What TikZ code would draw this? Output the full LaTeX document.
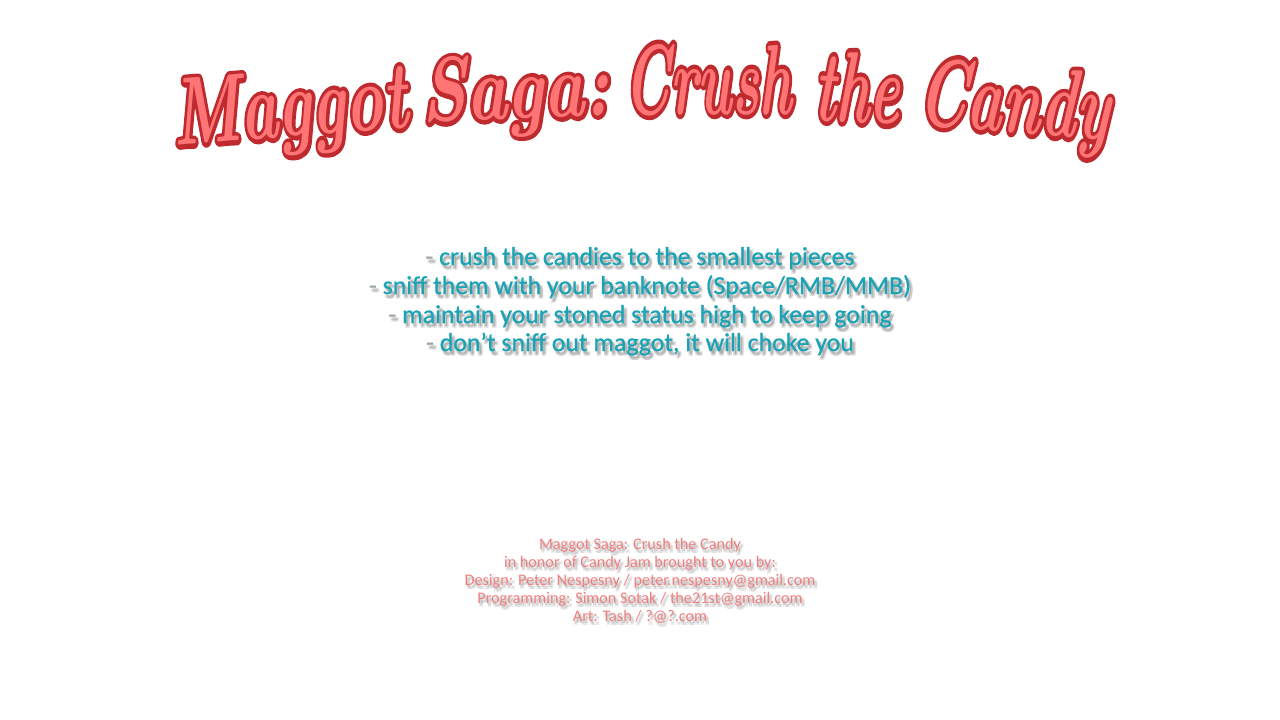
\documentclass[tikz,border=0pt]{standalone}
\usepackage{fontspec}
\usepackage{graphicx}
\newfontfamily\bodyfont[FakeBold=0.8]{Carlito}
\newfontfamily\footfont{Carlito}
\definecolor{ttlfill}{HTML}{FF7575}
\definecolor{ttlline}{HTML}{BE2A2E}
\definecolor{cyantxt}{HTML}{1AA3B5}
\definecolor{dashgray}{HTML}{9AA4A8}
\definecolor{foottxt}{HTML}{F07F7F}
\definecolor{shadowgray}{HTML}{707070}
\newcommand{\ttlfont}{\fontsize{100}{110}\selectfont\bfseries\itshape}
\newcommand{\strokedtext}[1]{\special{pdf:literal direct 2 Tr 9 w 1 J 1 j}#1\special{pdf:literal direct 0 Tr}}
\tikzset{
  ttl/.style={anchor=base west, inner sep=0pt, text=ttlfill},
  ttlo/.style={anchor=base west, inner sep=0pt, text=ttlline},
  body/.style={font=\bodyfont\fontsize{25.8}{30}\selectfont, text=cyantxt, anchor=base, inner sep=0pt},
  bodysh/.style={body, text=shadowgray, opacity=0.14},
  foot/.style={font=\footfont\fontsize{16.2}{19}\selectfont, text=foottxt, anchor=base, inner sep=0pt},
  footsh/.style={foot, text=shadowgray, opacity=0.14},
}
% width, height, text, x, y, rotation, name
\newcommand{\ttlword}[7]{%
  \node[ttlo, rotate=#6] at (#4,#5) {\resizebox{#1}{#2}{\ttlfont\strokedtext{#3}}};
  \node[ttl, rotate=#6] (#7) at (#4,#5) {\resizebox{#1}{#2}{\ttlfont #3}};}
\begin{document}
\begin{tikzpicture}[x=1pt,y=-1pt]
\useasboundingbox[fill=white] (0,0) rectangle (1280,720);
% title words
\ttlword{236pt}{66pt}{Maggot}{174}{146}{4.5}{t1}
\ttlword{188pt}{64pt}{Saga:}{422}{122}{2}{t2}
\ttlword{168pt}{70pt}{Crush}{624}{114}{0}{t3}
\ttlword{86pt}{70pt}{the}{813}{120}{-3}{t4}
\ttlword{192pt}{68pt}{Candy}{916}{124}{-5}{t5}
% body lines
\foreach \n/\yy/\t in {a/265/{crush the candies to the smallest pieces},
                       b/294/{sniff them with your banknote (Space/RMB/MMB)},
                       c/323/{maintain your stoned status high to keep going},
                       d/351/{don’t sniff out maggot, it will choke you}} {
  \foreach \dx/\dy in {2.5/3.5,1.5/2.5,3.5/4.5,1.5/4.5,3.5/2.5}
    \node[bodysh] at (640+\dx,\yy+\dy) {- \t};
  \node[body] (b\n) at (640,\yy) {\textcolor{dashgray}{-} \t};
}
% footer lines
\foreach \n/\yy/\t in {a/549/{Maggot Saga: Crush the Candy},
                       b/567/{in honor of Candy Jam brought to you by:},
                       c/585/{Design: Peter Nespesny / peter.nespesny@gmail.com},
                       d/603/{Programming: Simon Sotak / the21st@gmail.com},
                       e/621/{Art: Tash / ?@?.com}} {
  \foreach \dx/\dy in {2/3,1/2,3/4,1/4,3/2}
    \node[footsh] at (640+\dx,\yy+\dy) {\t};
  \node[foot] (f\n) at (640,\yy) {\t};
}
\end{tikzpicture}
\end{document}
